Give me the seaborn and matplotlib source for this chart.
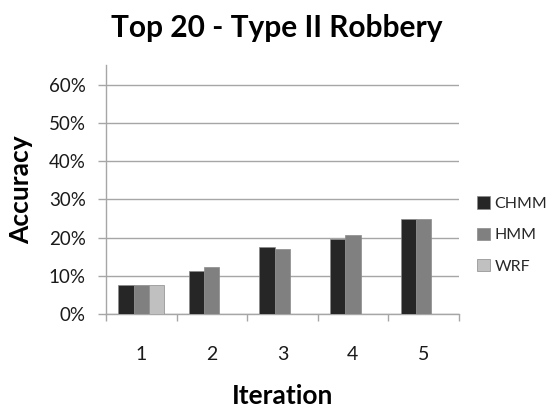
import numpy as np
import pandas as pd
import matplotlib
matplotlib.use("Agg")
import matplotlib.pyplot as plt
from matplotlib.ticker import PercentFormatter, FixedLocator
import seaborn as sns

# Accuracy per iteration for each model (WRF only evaluated on iteration 1)
iterations = ["1", "2", "3", "4", "5"]
chmm = [0.076, 0.113, 0.175, 0.197, 0.248]
hmm = [0.076, 0.122, 0.170, 0.207, 0.248]
wrf = [0.076, np.nan, np.nan, np.nan, np.nan]
models = ["CHMM", "HMM", "WRF"]
colors = ["#262626", "#808080", "#c0c0c0"]
y_ticks = [0.0, 0.1, 0.2, 0.3, 0.4, 0.5, 0.6]

df = pd.DataFrame({
    "Iteration": iterations * 3,
    "Model": ["CHMM"] * 5 + ["HMM"] * 5 + ["WRF"] * 5,
    "Accuracy": chmm + hmm + wrf,
})

sns.set_theme(style="white")
plt.rcParams["font.family"] = ["Lato", "DejaVu Sans"]

fig = plt.figure(figsize=(5.54, 4.08), dpi=100)
ax = fig.add_axes([106 / 554, 1 - 314 / 408, (458.7 - 106) / 554, (314 - 65) / 408])

sns.barplot(data=df, x="Iteration", y="Accuracy", hue="Model",
            hue_order=models, order=iterations, palette=colors,
            width=0.65, edgecolor="#8a8a8a", linewidth=0.5,
            errorbar=None, ax=ax, zorder=3)

ax.set_ylim(0, 0.652)
ax.set_xlim(-0.5, 4.5)
ax.yaxis.set_major_locator(FixedLocator(y_ticks))
ax.yaxis.set_major_formatter(PercentFormatter(1.0, decimals=0))
ax.grid(axis="y", color="#a6a6a6", linewidth=1.0, zorder=0)
ax.set_axisbelow(True)

for side in ["top", "right"]:
    ax.spines[side].set_visible(False)
for side in ["left", "bottom"]:
    ax.spines[side].set_color("#a6a6a6")
    ax.spines[side].set_linewidth(1.0)

# category boundary ticks on x, labels centred between them
ax.set_xticks(np.arange(-0.5, 5.0, 1.0), minor=True)
ax.tick_params(axis="x", which="minor", direction="out", length=5,
               width=1, color="#a6a6a6", bottom=True)
ax.tick_params(axis="x", which="major", length=0, pad=23,
               labelsize=14, labelcolor="#1a1a1a")
ax.tick_params(axis="y", which="major", direction="out", length=5.5,
               width=1, color="#a6a6a6", left=True, pad=9,
               labelsize=13.5, labelcolor="#1a1a1a")

ax.set_xlabel("Iteration", fontsize=19, fontweight="bold", labelpad=15,
              color="black")
ax.set_ylabel("Accuracy", fontsize=19, fontweight="bold", labelpad=11,
              color="black")
fig.suptitle("Top 20 - Type II Robbery", x=0.5, y=0.965, fontsize=21.5,
             fontweight="bold", color="black")

handles, labels = ax.get_legend_handles_labels()
ax.legend(handles, labels, loc="center left", bbox_to_anchor=(1.02, 0.317),
          frameon=False, fontsize=11.5, handlelength=0.8, handleheight=0.8,
          handletextpad=0.3, labelspacing=1.05, borderaxespad=0.3)

fig.savefig("out.png", dpi=100)
